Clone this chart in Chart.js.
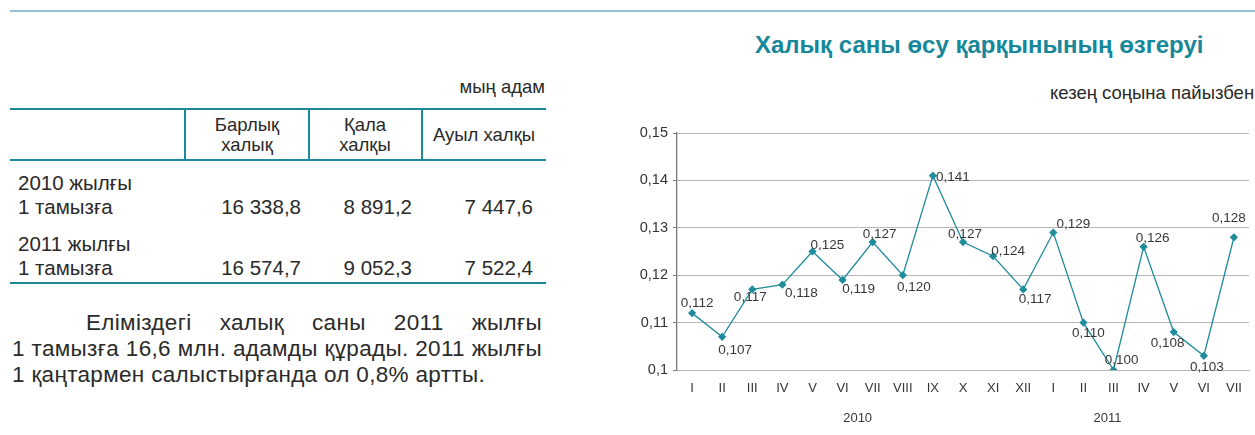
<!DOCTYPE html>
<html>
<head>
<meta charset="utf-8">
<script src="https://cdn.jsdelivr.net/npm/chart.js@4.4.0/dist/chart.umd.min.js"></script>
<style>
  html, body { margin: 0; padding: 0; background: #fff; }
  body { width: 1255px; height: 435px; position: relative; overflow: hidden;
         font-family: "Liberation Sans", Arial, sans-serif; color: #2a2a2a; }
  .abs { position: absolute; white-space: nowrap; }
  .hline { position: absolute; background: #1b8a9a; height: 2px; }
  .vline { position: absolute; background: #1b8a9a; width: 2px; }
  .para { position: absolute; font-size: 22.5px; line-height: 25px; white-space: nowrap; }
  #chartBox { position: absolute; left: 600px; top: 110px; width: 655px; height: 325px; }
</style>
</head>
<body>
<div class="abs" style="left:10px;top:10px;width:1245px;height:2px;background:#93c2d2;"></div>

<div class="abs" style="right:710px;top:76px;font-size:18.5px;">мың адам</div>
<div class="hline" style="left:10px;top:108px;width:536px;"></div>
<div class="hline" style="left:10px;top:159px;width:536px;"></div>
<div class="hline" style="left:10px;top:282px;width:536px;"></div>
<div id="table"></div>
<div id="paragraph"></div>

<div class="abs" style="left:755px;top:31px;font-size:24px;font-weight:bold;color:#17889a;">Халық саны өсу қарқынының өзгеруі</div>
<div class="abs" style="left:1050px;top:82px;font-size:18.5px;">кезең соңына пайызбен</div>

<div id="chartBox"><canvas id="growthChart"></canvas></div>

<script>
// table
let headers = [["Барлық", "халық"], ["Қала", "халқы"], ["Ауыл халқы"]];
let rowNames = [["2010 жылғы", "1 тамызға"], ["2011 жылғы", "1 тамызға"]];
let totalPop = ["16 338,8", "16 574,7"];
let urbanPop = ["8 891,2", "9 052,3"];
let ruralPop = ["7 447,6", "7 522,4"];
let textLines = ["Еліміздегі халық саны 2011 жылғы",
                 "1 тамызға 16,6 млн. адамды құрады. 2011 жылғы",
                 "1 қаңтармен салыстырғанда ол 0,8% артты."];

// chart
let months = ["I", "II", "III", "IV", "V", "VI", "VII", "VIII", "IX", "X", "XI", "XII",
              "I", "II", "III", "IV", "V", "VI", "VII"];
let years = ["2010", "2011"];
let growth = [0.112, 0.107, 0.117, 0.118, 0.125, 0.119, 0.127, 0.120, 0.141, 0.127, 0.124, 0.117,
              0.129, 0.110, 0.100, 0.126, 0.108, 0.103, 0.128];
let yTicks = [0.10, 0.11, 0.12, 0.13, 0.14, 0.15];

// label placement around each point (px)
let labelShift = [[5,-10],[13,13],[-2,8],[19,9],[15,-6],[16,9],[7,-8],[11,12],[20,2],[2,-8],
                  [15,-5],[12,10],[20,-8],[5,11],[8,-10],[9,-8],[-6,11],[3,12],[-5,-19]];
let yearCenter = [5.5, 13.8];

function buildTable() {
    let t = document.getElementById("table");
    let colCenters = [247, 365, 484];
    let colRights = [301, 412, 533];
    let html = "";
    headers.forEach((h, i) => {
        let top = h.length === 2 ? 115 : 125;
        html += `<div class="abs" style="left:${colCenters[i] - 70}px;width:140px;top:${top}px;text-align:center;font-size:18.5px;line-height:20px;">${h.join("<br>")}</div>`;
    });
    [185, 309, 422].forEach(x => {
        html += `<div class="vline" style="left:${x - 1}px;top:109px;height:51px;"></div>`;
    });
    rowNames.forEach((r, i) => {
        let top = 171 + i * 61;
        html += `<div class="abs" style="left:18px;top:${top}px;font-size:20.5px;line-height:24px;">${r[0]}<br>${r[1]}</div>`;
        [totalPop[i], urbanPop[i], ruralPop[i]].forEach((v, j) => {
            html += `<div class="abs" style="right:${1255 - colRights[j]}px;top:${top + 24}px;font-size:20.5px;line-height:24px;">${v}</div>`;
        });
    });
    t.innerHTML = html;
}

function buildParagraph() {
    let p = document.getElementById("paragraph");
    let c = document.createElement("canvas").getContext("2d");
    c.font = '22.5px "Liberation Sans", Arial, sans-serif';
    // last line width sets the letter spacing, the others are justified
    let last = textLines[2];
    let spacing = (473 - c.measureText(last).width) / last.length;
    let lefts = [86, 12, 12];
    let rights = [542, 542, null];
    let tops = [310, 336, 362];
    textLines.forEach((line, i) => {
        let words = line.split(" ");
        let d = document.createElement("div");
        d.className = "para";
        d.style.left = lefts[i] + "px";
        d.style.top = tops[i] + "px";
        d.style.letterSpacing = spacing + "px";
        if (rights[i] !== null) {
            let natural = words.reduce((s, w) => s + c.measureText(w).width + w.length * spacing, 0);
            let gap = (rights[i] - lefts[i] - natural) / (words.length - 1);
            d.innerHTML = words.map((w, k) => `<span style="position:absolute;left:${words.slice(0, k).reduce((s, x) => s + c.measureText(x).width + x.length * spacing + gap, 0)}px">${w}</span>`).join("");
        } else {
            d.textContent = line;
        }
        p.appendChild(d);
    });
}
buildTable();
buildParagraph();

const pointLabels = {
    id: "pointLabels",
    afterDatasetsDraw(chart) {
        let ctx = chart.ctx;
        let meta = chart.getDatasetMeta(0);
        ctx.save();
        ctx.font = '13.5px "Liberation Sans", Arial, sans-serif';
        ctx.fillStyle = "#383838";
        ctx.textAlign = "center";
        ctx.textBaseline = "middle";
        meta.data.forEach((pt, i) => {
            let txt = growth[i].toFixed(3).replace(".", ",");
            ctx.fillText(txt, pt.x + labelShift[i][0], pt.y + labelShift[i][1]);
        });
        ctx.font = '13px "Liberation Sans", Arial, sans-serif';
        let xs = chart.scales.x;
        years.forEach((y, i) => {
            ctx.fillText(y, xs.getPixelForValue(yearCenter[i]), 418 - 110);
        });
        ctx.restore();
    }
};

new Chart(document.getElementById("growthChart"), {
    type: "line",
    data: {
        labels: months,
        datasets: [{
            data: growth,
            borderColor: "#1f8c9c",
            backgroundColor: "#1f8c9c",
            borderWidth: 1.3,
            pointStyle: "rectRot",
            pointRadius: 3.2,
            pointHoverRadius: 3.2,
            tension: 0,
            fill: false
        }]
    },
    options: {
        responsive: true,
        maintainAspectRatio: false,
        animation: false,
        events: [],
        layout: { padding: { top: 23, right: 6, left: 0, bottom: 0 } },
        plugins: { legend: { display: false }, tooltip: { enabled: false }, title: { display: false } },
        scales: {
            x: {
                offset: true,
                grid: { display: false, drawTicks: false },
                border: { display: true, color: "#b5b5b5" },
                ticks: { padding: 11, color: "#333", font: { size: 13, family: '"Liberation Sans", Arial, sans-serif' }, maxRotation: 0, autoSkip: false },
                afterFit(scale) { scale.height = 65; }
            },
            y: {
                min: yTicks[0],
                max: yTicks[yTicks.length - 1],
                afterBuildTicks(scale) { scale.ticks = yTicks.map(v => ({ value: v })); },
                grid: { color: "#b8b8b8", tickColor: "#777", tickLength: 4, lineWidth: 1 },
                border: { display: true, color: "#777", width: 1.3 },
                ticks: {
                    padding: 5,
                    color: "#333",
                    font: { size: 14.5, family: '"Liberation Sans", Arial, sans-serif' },
                    callback: v => Number(v.toFixed(2)).toString().replace(".", ",")
                },
                afterFit(scale) { scale.width = 77; }
            }
        }
    },
    plugins: [pointLabels]
});
</script>
</body>
</html>
